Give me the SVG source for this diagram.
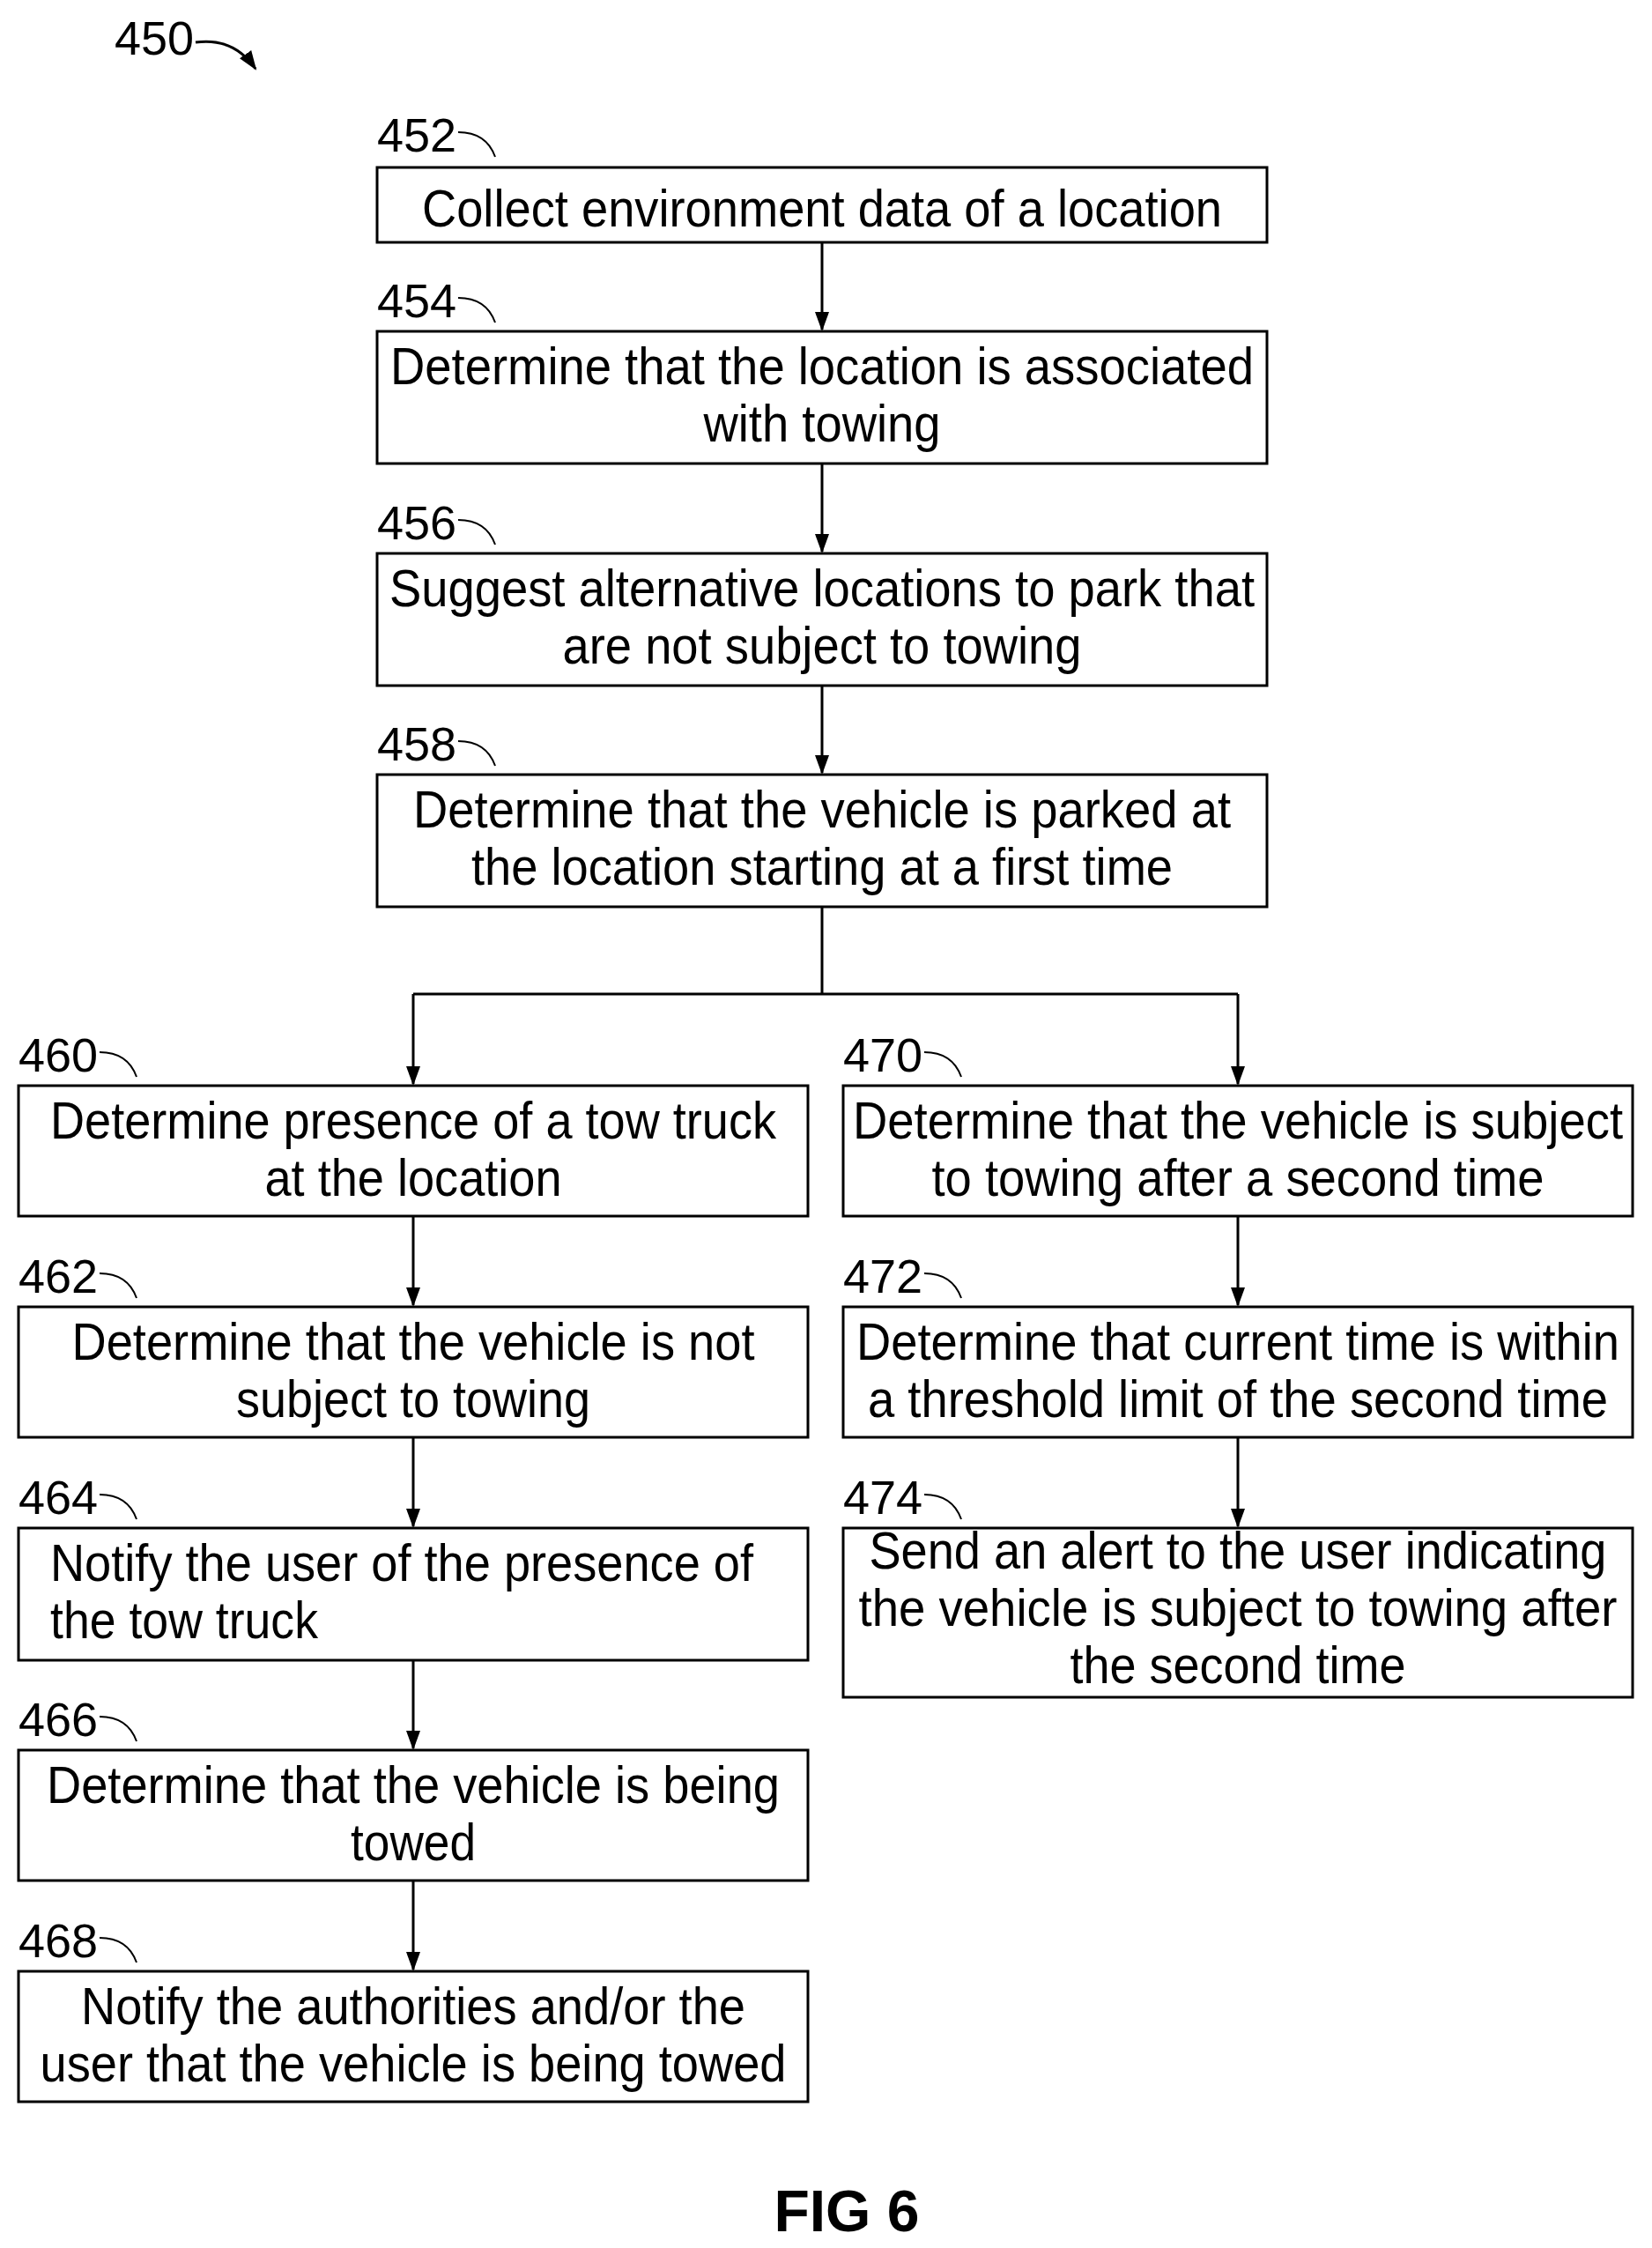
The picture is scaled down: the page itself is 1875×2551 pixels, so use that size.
<svg xmlns="http://www.w3.org/2000/svg" width="1875" height="2551" viewBox="0 0 1875 2551">
<style>
.b{fill:#fff;stroke:#000;stroke-width:3}
.t{font-family:"Liberation Sans",Arial,sans-serif;font-size:60px;text-anchor:middle}
.l{font-family:"Liberation Sans",Arial,sans-serif;font-size:54px}
.c{fill:none;stroke:#000;stroke-width:3}
.s{fill:none;stroke:#000;stroke-width:2}
</style>
<defs><marker id="a" markerWidth="12" markerHeight="12" refX="10" refY="6" orient="auto" markerUnits="userSpaceOnUse"><path d="M0,0 L12,6 L0,12 Z" transform="scale(1.6) translate(-4,-2.2)"/></marker>
<marker id="h" markerWidth="24" markerHeight="20" refX="20" refY="10" orient="auto" markerUnits="userSpaceOnUse"><path d="M0,2 L22,10 L0,18 Z"/></marker></defs>
<text class="l" x="130" y="62">450</text>
<path class="c" d="M222,48 Q265,42 290,78" marker-end="url(#h)"/>
<g id="n452"><rect class="b" x="428" y="190" width="1010" height="85"/><text class="t" x="933" y="257" textLength="908" lengthAdjust="spacingAndGlyphs">Collect environment data of a location</text><text class="l" x="428" y="172">452</text><path class="s" d="M520,150 Q552,150 562,178"/></g>
<g id="n454"><rect class="b" x="428" y="376" width="1010" height="150"/><text class="t" x="933" y="436" textLength="980" lengthAdjust="spacingAndGlyphs">Determine that the location is associated</text><text class="t" x="933" y="501" textLength="269" lengthAdjust="spacingAndGlyphs">with towing</text><text class="l" x="428" y="360">454</text><path class="s" d="M520,338 Q552,338 562,366"/></g>
<g id="n456"><rect class="b" x="428" y="628" width="1010" height="150"/><text class="t" x="933" y="688" textLength="982" lengthAdjust="spacingAndGlyphs">Suggest alternative locations to park that</text><text class="t" x="933" y="753" textLength="589" lengthAdjust="spacingAndGlyphs">are not subject to towing</text><text class="l" x="428" y="612">456</text><path class="s" d="M520,590 Q552,590 562,618"/></g>
<g id="n458"><rect class="b" x="428" y="879" width="1010" height="150"/><text class="t" x="933" y="939" textLength="928" lengthAdjust="spacingAndGlyphs">Determine that the vehicle is parked at</text><text class="t" x="933" y="1004" textLength="796" lengthAdjust="spacingAndGlyphs">the location starting at a first time</text><text class="l" x="428" y="863">458</text><path class="s" d="M520,841 Q552,841 562,869"/></g>
<g id="n460"><rect class="b" x="21" y="1232" width="896" height="148"/><text class="t" x="469" y="1292" textLength="824" lengthAdjust="spacingAndGlyphs">Determine presence of a tow truck</text><text class="t" x="469" y="1357" textLength="337" lengthAdjust="spacingAndGlyphs">at the location</text><text class="l" x="21" y="1216">460</text><path class="s" d="M113,1194 Q145,1194 155,1222"/></g>
<g id="n462"><rect class="b" x="21" y="1483" width="896" height="148"/><text class="t" x="469" y="1543" textLength="775" lengthAdjust="spacingAndGlyphs">Determine that the vehicle is not</text><text class="t" x="469" y="1608" textLength="402" lengthAdjust="spacingAndGlyphs">subject to towing</text><text class="l" x="21" y="1467">462</text><path class="s" d="M113,1445 Q145,1445 155,1473"/></g>
<g id="n464"><rect class="b" x="21" y="1734" width="896" height="150"/><text class="t" style="text-anchor:start" x="57" y="1794" textLength="798" lengthAdjust="spacingAndGlyphs">Notify the user of the presence of</text><text class="t" style="text-anchor:start" x="57" y="1859" textLength="304" lengthAdjust="spacingAndGlyphs">the tow truck</text><text class="l" x="21" y="1718">464</text><path class="s" d="M113,1696 Q145,1696 155,1724"/></g>
<g id="n466"><rect class="b" x="21" y="1986" width="896" height="148"/><text class="t" x="469" y="2046" textLength="832" lengthAdjust="spacingAndGlyphs">Determine that the vehicle is being</text><text class="t" x="469" y="2111" textLength="142" lengthAdjust="spacingAndGlyphs">towed</text><text class="l" x="21" y="1970">466</text><path class="s" d="M113,1948 Q145,1948 155,1976"/></g>
<g id="n468"><rect class="b" x="21" y="2237" width="896" height="148"/><text class="t" x="469" y="2297" textLength="754" lengthAdjust="spacingAndGlyphs">Notify the authorities and/or the</text><text class="t" x="469" y="2362" textLength="847" lengthAdjust="spacingAndGlyphs">user that the vehicle is being towed</text><text class="l" x="21" y="2221">468</text><path class="s" d="M113,2199 Q145,2199 155,2227"/></g>
<g id="n470"><rect class="b" x="957" y="1232" width="896" height="148"/><text class="t" x="1405" y="1292" textLength="874" lengthAdjust="spacingAndGlyphs">Determine that the vehicle is subject</text><text class="t" x="1405" y="1357" textLength="695" lengthAdjust="spacingAndGlyphs">to towing after a second time</text><text class="l" x="957" y="1216">470</text><path class="s" d="M1049,1194 Q1081,1194 1091,1222"/></g>
<g id="n472"><rect class="b" x="957" y="1483" width="896" height="148"/><text class="t" x="1405" y="1543" textLength="866" lengthAdjust="spacingAndGlyphs">Determine that current time is within</text><text class="t" x="1405" y="1608" textLength="840" lengthAdjust="spacingAndGlyphs">a threshold limit of the second time</text><text class="l" x="957" y="1467">472</text><path class="s" d="M1049,1445 Q1081,1445 1091,1473"/></g>
<g id="n474"><rect class="b" x="957" y="1734" width="896" height="192"/><text class="t" x="1405" y="1780" textLength="837" lengthAdjust="spacingAndGlyphs">Send an alert to the user indicating</text><text class="t" x="1405" y="1845" textLength="861" lengthAdjust="spacingAndGlyphs">the vehicle is subject to towing after</text><text class="t" x="1405" y="1910" textLength="381" lengthAdjust="spacingAndGlyphs">the second time</text><text class="l" x="957" y="1718">474</text><path class="s" d="M1049,1696 Q1081,1696 1091,1724"/></g>
<g id="connectors" class="c">
<path d="M933,275 V374" marker-end="url(#h)"/>
<path d="M933,526 V626" marker-end="url(#h)"/>
<path d="M933,778 V877" marker-end="url(#h)"/>
<path d="M933,1029 V1128"/>
<path d="M469,1128 H1405"/>
<path d="M469,1128 V1230" marker-end="url(#h)"/>
<path d="M1405,1128 V1230" marker-end="url(#h)"/>
<path d="M469,1380 V1481" marker-end="url(#h)"/>
<path d="M469,1631 V1732" marker-end="url(#h)"/>
<path d="M469,1884 V1984" marker-end="url(#h)"/>
<path d="M469,2134 V2235" marker-end="url(#h)"/>
<path d="M1405,1380 V1481" marker-end="url(#h)"/>
<path d="M1405,1631 V1732" marker-end="url(#h)"/>
</g>
<text x="961" y="2532" style="font-family:'Liberation Sans',Arial,sans-serif;font-size:66px;font-weight:bold;text-anchor:middle">FIG 6</text>
</svg>
